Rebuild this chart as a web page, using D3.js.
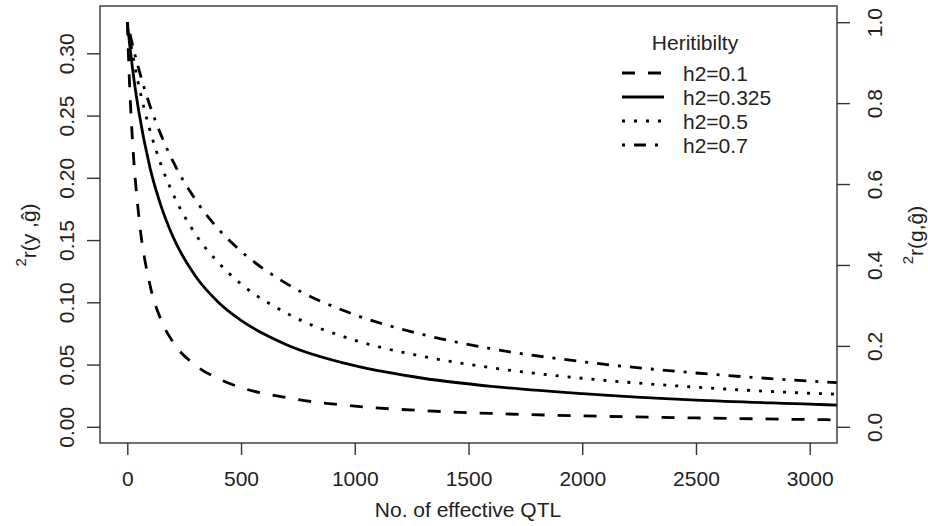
<!DOCTYPE html>
<html lang="en">
<head>
<meta charset="UTF-8">
<title>Effective QTL vs accuracy</title>
<script src="https://cdn.jsdelivr.net/npm/d3@7"></script>
<style>
  body { margin: 0; background: #fff; }
  text { font-family: "Liberation Sans", Arial, sans-serif; fill: #222; }
</style>
</head>
<body>
<svg id="chart" width="928" height="526"></svg>
<script>
// number of effective QTL (x) and r2(g,ghat), one list per heritability
const qtl    = [0, 10, 25, 50, 100, 150, 200, 300, 400, 500, 700, 1000, 1300, 1600, 2000, 2500, 3000, 3150];
const h2_010 = [1, 0.846, 0.688, 0.524, 0.350, 0.262, 0.210, 0.152, 0.119, 0.097, 0.072, 0.051, 0.040, 0.033, 0.027, 0.022, 0.018, 0.017];
const h2_0325 = [1, 0.947, 0.877, 0.781, 0.640, 0.543, 0.471, 0.372, 0.308, 0.263, 0.203, 0.151, 0.120, 0.100, 0.082, 0.066, 0.056, 0.053];
const h2_050 = [1, 0.965, 0.916, 0.845, 0.732, 0.645, 0.577, 0.476, 0.406, 0.353, 0.281, 0.214, 0.174, 0.146, 0.120, 0.098, 0.083, 0.080];
const h2_070 = [1, 0.975, 0.939, 0.885, 0.793, 0.719, 0.657, 0.561, 0.489, 0.434, 0.354, 0.277, 0.228, 0.193, 0.161, 0.133, 0.113, 0.108];

const legendLabels = ["h2=0.1", "h2=0.325", "h2=0.5", "h2=0.7"];
const xTicks = [0, 500, 1000, 1500, 2000, 2500, 3000];
const leftTicks = [0, 0.05, 0.10, 0.15, 0.20, 0.25, 0.30];
const rightTicks = [0, 0.2, 0.4, 0.6, 0.8, 1.0];

// R style line types (dashed, solid, dotted, dotdash), scaled up like the picture
const dashes = ["13,13", null, "3,9", "3,9,12,9"];
const series = [h2_010, h2_0325, h2_050, h2_070];
const lw = 2.8;
const fs = "21px";

const svg = d3.select("#chart");
const pL = 100, pR = 837, pT = 6, pB = 443;

const x = d3.scaleLinear().domain([-120, 3120]).range([pL, pR]);
const yR = d3.scaleLinear().domain([-0.04, 1.04]).range([pB, pT]);
const yL = d3.scaleLinear().domain([-0.013, 0.338]).range([pB, pT]);

svg.append("clipPath").attr("id", "plotclip")
  .append("rect")
  .attr("x", pL).attr("y", pT)
  .attr("width", pR - pL).attr("height", pB - pT);

const line = d3.line()
  .x((d, i) => x(qtl[i]))
  .y(d => yR(d))
  .curve(d3.curveMonotoneX);

svg.append("g").attr("clip-path", "url(#plotclip)")
  .selectAll("path")
  .data(series)
  .join("path")
  .attr("d", line)
  .attr("fill", "none")
  .attr("stroke", "#000")
  .attr("stroke-width", lw)
  .attr("stroke-dasharray", (d, i) => dashes[i]);

// box
svg.append("rect")
  .attr("x", pL).attr("y", pT)
  .attr("width", pR - pL).attr("height", pB - pT)
  .attr("fill", "none").attr("stroke", "#333").attr("stroke-width", 1.4);

// bottom axis
const gx = svg.append("g")
  .attr("transform", `translate(0,${pB})`)
  .call(d3.axisBottom(x).tickValues(xTicks).tickFormat(d3.format("d")).tickSize(12));
gx.selectAll("text").attr("y", 43).attr("dy", 0);

// left axis
const gl = svg.append("g")
  .attr("transform", `translate(${pL},0)`)
  .call(d3.axisLeft(yL).tickValues(leftTicks).tickFormat(d3.format(".2f")).tickSize(13));
gl.selectAll("text")
  .attr("transform", "rotate(-90)")
  .attr("x", 0).attr("y", -26).attr("dy", 0)
  .attr("text-anchor", "middle");

// right axis
const gr = svg.append("g")
  .attr("transform", `translate(${pR},0)`)
  .call(d3.axisRight(yR).tickValues(rightTicks).tickFormat(d3.format(".1f")).tickSize(13));
gr.selectAll("text")
  .attr("transform", "rotate(-90)")
  .attr("x", 0).attr("y", 45).attr("dy", 0)
  .attr("text-anchor", "middle");

svg.selectAll(".domain").remove();
svg.selectAll(".tick line").attr("stroke", "#333").attr("stroke-width", 1.4);
svg.selectAll(".tick text").style("font-size", fs).attr("fill", "#222");

// axis titles
svg.append("text")
  .attr("x", 468).attr("y", 517)
  .attr("text-anchor", "middle")
  .style("font-size", fs)
  .text("No. of effective QTL");

function yTitle(xpos, inner) {
  const t = svg.append("text")
    .attr("transform", `translate(${xpos},235) rotate(-90)`)
    .attr("text-anchor", "middle")
    .style("font-size", fs);
  t.append("tspan").attr("dy", "-0.45em").style("font-size", "15px").text("2");
  t.append("tspan").attr("dy", "0.45em").text("r(" + inner + ")");
}
yTitle(33, "y ,ĝ");
yTitle(920, "g,ĝ");

// legend
const legend = svg.append("g");
legend.append("text")
  .attr("x", 695).attr("y", 50)
  .attr("text-anchor", "middle")
  .style("font-size", fs)
  .text("Heritibilty");

const rows = legend.selectAll("g.row")
  .data(legendLabels)
  .join("g")
  .attr("class", "row")
  .attr("transform", (d, i) => `translate(0,${73 + i * 24})`);

rows.append("line")
  .attr("x1", 622).attr("x2", 664)
  .attr("stroke", "#000").attr("stroke-width", lw)
  .attr("stroke-dasharray", (d, i) => dashes[i]);

rows.append("text")
  .attr("x", 683).attr("y", 0).attr("dy", "0.36em")
  .style("font-size", fs)
  .text(d => d);
</script>
</body>
</html>
